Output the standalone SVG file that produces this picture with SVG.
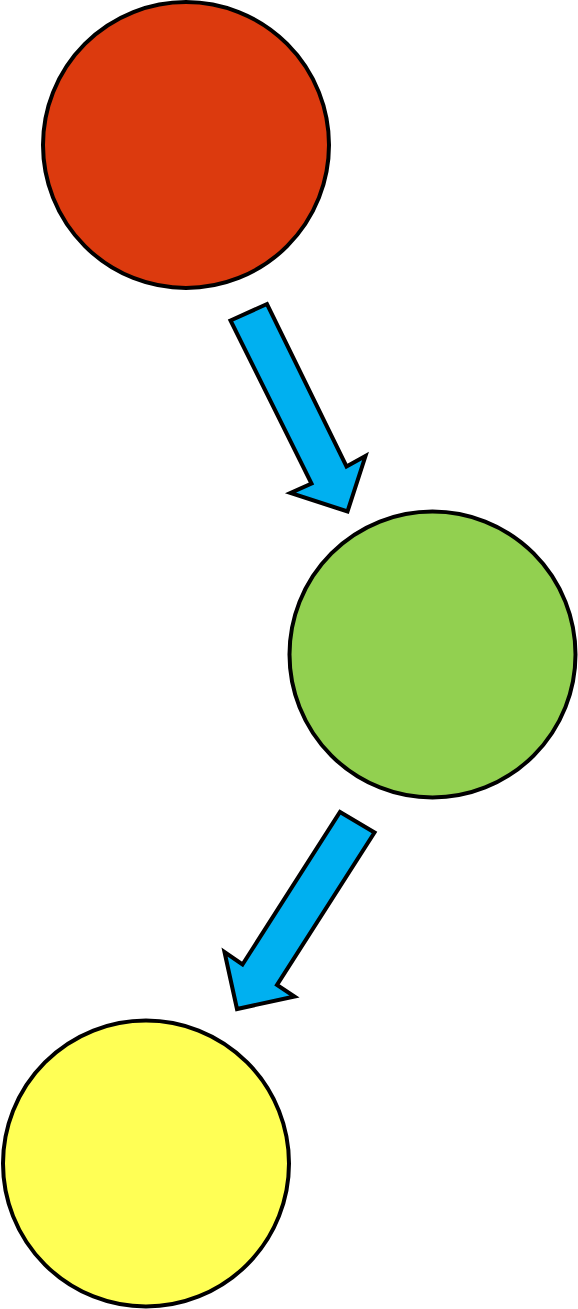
<svg xmlns="http://www.w3.org/2000/svg" width="578" height="1309" viewBox="0 0 578 1309">
<style>
.node{stroke:#000;stroke-width:4}
.arrow{fill:#00B0F0;stroke:#000;stroke-width:4;stroke-linejoin:miter}
</style>
<rect width="578" height="1309" fill="#fff"/>
<g id="node-red"><circle class="node" cx="186" cy="145" r="143" fill="#DC3A0E"/></g>
<g id="node-green"><circle class="node" cx="432.5" cy="654.5" r="143" fill="#92D050"/></g>
<g id="node-yellow"><circle class="node" cx="146" cy="1163.5" r="143" fill="#FFFF55"/></g>
<g id="connectors">
<polygon class="arrow" points="230.5,320.5 267,304 346.5,466.5 365.5,456 347.5,511.5 290.5,493 311.5,483.5"/>
<polygon class="arrow" points="340,812 374.5,832.5 277,985 294.5,996.5 237,1009 224.5,952 242.5,964.5"/>
</g>
</svg>
